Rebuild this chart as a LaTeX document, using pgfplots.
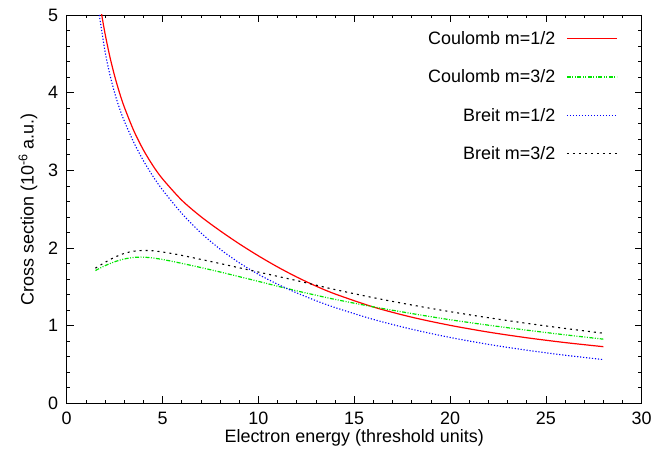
\documentclass[border=0pt]{standalone}
\usepackage{pgfplots}
\pgfplotsset{compat=1.18}
\usepackage{fontspec}
\setmainfont{Liberation Sans}

\pgfplotstableread{
x y
1.80 5.04
2.00 4.761
2.25 4.465
2.50 4.216
2.75 4.003
3.00 3.818
3.50 3.510
4.00 3.263
4.50 3.060
5.00 2.890
6.00 2.616
7.00 2.404
8.00 2.222
9.00 2.054
10.00 1.899
11.00 1.756
12.00 1.626
13.00 1.510
14.00 1.408
16.00 1.240
18.00 1.109
20.00 1.004
22.00 0.917
24.00 0.844
26.00 0.782
28.00 0.729
}\coulombA

\pgfplotstableread{
x y
1.50 1.710
2.00 1.772
2.50 1.822
3.00 1.858
3.50 1.878
4.00 1.882
4.50 1.871
5.00 1.852
5.50 1.828
6.00 1.802
7.00 1.748
8.00 1.691
9.00 1.631
10.00 1.570
11.00 1.508
12.00 1.448
13.00 1.392
14.00 1.338
16.00 1.242
18.00 1.156
20.00 1.076
22.00 1.006
24.00 0.942
26.00 0.882
28.00 0.826
}\coulombB

\pgfplotstableread{
x y
1.70 5.00
2.00 4.531
2.25 4.236
2.50 3.998
2.75 3.802
3.00 3.637
3.50 3.359
4.00 3.125
4.50 2.923
5.00 2.748
6.00 2.446
7.00 2.195
8.00 1.986
9.00 1.810
10.00 1.661
11.00 1.534
12.00 1.422
13.00 1.322
14.00 1.233
16.00 1.080
18.00 0.954
20.00 0.848
22.00 0.759
24.00 0.684
26.00 0.619
28.00 0.563
}\breitA

\pgfplotstableread{
x y
1.50 1.740
2.00 1.815
2.50 1.880
3.00 1.930
3.50 1.958
4.00 1.968
4.50 1.964
5.00 1.948
5.50 1.928
6.00 1.905
7.00 1.853
8.00 1.800
9.00 1.745
10.00 1.690
11.00 1.635
12.00 1.580
13.00 1.522
14.00 1.464
16.00 1.360
18.00 1.266
20.00 1.180
22.00 1.102
24.00 1.030
26.00 0.964
28.00 0.902
}\breitB

\begin{document}
\begin{tikzpicture}
\path[use as bounding box] (-66.7bp,-59.7bp) rectangle (588.3bp,403.3bp);
\begin{axis}[
  at={(0,0)}, anchor=south west,
  scale only axis,
  width=575bp, height=388.3bp,
  xmin=0, xmax=30, ymin=0, ymax=5,
  xtick={0,5,...,30}, ytick={0,1,...,5},
  minor x tick num=4, minor y tick num=4,
  tick align=inside,
  major tick length=7bp, minor tick length=3.5bp,
  tick style={black, line width=0.6bp},
  axis line style={line width=0.8bp},
  font=\fontsize{18}{21}\selectfont,
  /pgf/number format/assume math mode=true,
  xticklabel style={yshift=-5bp},
  yticklabel style={xshift=-5bp},
  xlabel={Electron energy (threshold units)},
  ylabel={Cross section (10\textsuperscript{-6} a.u.)},
  every axis x label/.style={at={(axis description cs:0.5,-0.09)}, anchor=center},
  every axis y label/.style={at={(axis description cs:-0.0673,0.5)}, anchor=center, rotate=90},
  legend cell align=right,
  legend plot pos=right,
  legend style={draw=none, fill=none, at={(rel axis cs:1,1)}, anchor=north east,
     xshift=-21bp, yshift=-12bp, row sep=20bp, column sep=9bp,
     font=\fontsize{18}{21}\selectfont, nodes={inner sep=2bp}},
  legend image code/.code={\draw[#1] (0bp,0bp) -- (50bp,0bp);},
  clip=true,
]
\addplot[red, line width=1.2bp, smooth] table {\coulombA};
\addlegendentry{Coulomb m=1/2}
\addplot[color={rgb,255:red,0;green,230;blue,0}, line width=1.2bp, smooth, dash pattern=on 4bp off 1.5bp on 1bp off 1.5bp on 1bp off 1.5bp] table {\coulombB};
\addlegendentry{Coulomb m=3/2}
\addplot[blue, line width=1.1bp, smooth, dash pattern=on 1.2bp off 1.8bp] table {\breitA};
\addlegendentry{Breit m=1/2}
\addplot[black, line width=1.1bp, smooth, dash pattern=on 2bp off 4bp] table {\breitB};
\addlegendentry{Breit m=3/2}
\end{axis}
\end{tikzpicture}
\end{document}
